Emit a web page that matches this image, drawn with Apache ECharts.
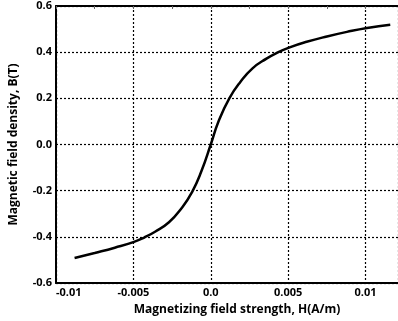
<!DOCTYPE html>
<html>
<head>
<meta charset="utf-8">
<script src="https://cdn.jsdelivr.net/npm/echarts@6/dist/echarts.min.js"></script>
<style>html,body{margin:0;padding:0;background:#fff}#c{width:398px;height:321px}</style>
</head>
<body>
<div id="c"></div>
<script>
var H = [-0.0088,-0.0075,-0.0062,-0.0050,-0.0043,-0.0036,-0.0027,-0.0019,-0.0012,-0.0006,0.0000,0.0005,0.0012,0.0019,0.0027,0.0036,0.0043,0.0051,0.0062,0.0075,0.0088,0.0101,0.0116];
var B = [-0.492,-0.470,-0.447,-0.423,-0.403,-0.378,-0.337,-0.277,-0.205,-0.115,0.000,0.100,0.200,0.270,0.330,0.372,0.398,0.421,0.445,0.468,0.488,0.505,0.519];
var xTickValues = [-0.01,-0.005,0,0.005,0.01];
var xTickLabels = ['-0.01','-0.005','0.0','0.005','0.01'];
var yTickValues = [-0.6,-0.4,-0.2,0,0.2,0.4,0.6];
var yTickLabels = ['-0.6','-0.4','-0.2','0.0','0.2','0.4','0.6'];
var xTitle = 'Magnetizing field strength, H(A/m)';
var yTitle = 'Magnetic field density, B(T)';

function lab(vals, labs){
  return function(v){
    for (var i=0;i<vals.length;i++){ if (Math.abs(vals[i]-v)<1e-9) return labs[i]; }
    return '';
  };
}
var font = "'Open Sans', 'DejaVu Sans', sans-serif";
var chart = echarts.init(document.getElementById('c'), null, {renderer:'canvas'});
chart.setOption({
  animation:false,
  backgroundColor:'#fff',
  grid:{left:54, top:6, right:0, bottom:36, containLabel:false},
  xAxis:[{
    type:'value', min:-0.01, max:0.0121, interval:0.005,
    axisLine:{show:true, onZero:false, lineStyle:{color:'#000', width:2}},
    axisTick:{show:false},
    axisLabel:{formatter:lab(xTickValues,xTickLabels), color:'#000', fontFamily:font, fontWeight:'bold', fontSize:11, margin:4, alignMinLabel:'left', showMaxLabel:false},
    splitLine:{show:true, lineStyle:{color:'#000', type:[2,2], width:1.2}},
    name:xTitle, nameLocation:'middle', nameGap:21,
    nameTextStyle:{color:'#000', fontFamily:font, fontWeight:'bold', fontSize:12, padding:[0,0,0,20]}
  },{
    type:'value', position:'top', min:-0.01, max:0.0121, interval:0.0025,
    axisLine:{show:true, onZero:false, lineStyle:{color:'#000', width:2}},
    axisTick:{show:true, inside:true, length:3, lineStyle:{color:'#666', width:1}},
    axisLabel:{show:false}, splitLine:{show:false}
  }],
  yAxis:{
    type:'value', min:-0.6, max:0.6, interval:0.2,
    axisLine:{show:true, onZero:false, lineStyle:{color:'#000', width:2}},
    axisTick:{show:false},
    axisLabel:{formatter:lab(yTickValues,yTickLabels), color:'#000', fontFamily:font, fontWeight:'bold', fontSize:11, margin:4},
    splitLine:{show:true, lineStyle:{color:'#000', type:[2,2], width:1.2}},
    name:yTitle, nameLocation:'middle', nameGap:36, nameRotate:90,
    nameTextStyle:{color:'#000', fontFamily:font, fontWeight:'bold', fontSize:12}
  },
  series:[{
    type:'line', xAxisIndex:0, smooth:0.5, symbol:'none',
    data:H.map(function(h,i){return [h,B[i]];}),
    lineStyle:{color:'#000', width:2.5}
  }]
});
</script>
</body>
</html>
